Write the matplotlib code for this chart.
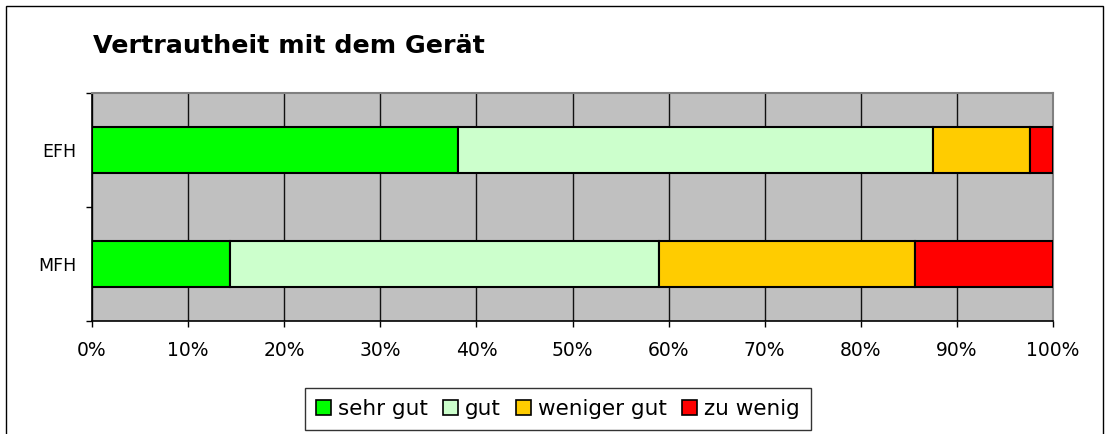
import matplotlib
matplotlib.use("Agg")
import matplotlib.pyplot as plt
from matplotlib.patches import Rectangle

plt.rcParams['font.family'] = ['DejaVu Sans']

categories = ['MFH', 'EFH']
series = ['sehr gut', 'gut', 'weniger gut', 'zu wenig']
values = {
    'sehr gut':    [14.4, 38.1],
    'gut':         [44.6, 49.4],
    'weniger gut': [26.6, 10.1],
    'zu wenig':    [14.4, 2.4],
}
colors = ['#00FF00', '#CCFFCC', '#FFCC00', '#FF0000']
xticks = list(range(0, 101, 10))
xticklabels = [f'{t}%' for t in xticks]

fig = plt.figure(figsize=(11.09, 4.34), dpi=100)
# outer chart frame
fig.patches.append(Rectangle((6/1109, -0.1), 1097/1109, 1.1 - 6/434, transform=fig.transFigure,
                             fill=False, edgecolor='black', linewidth=1))

ax = fig.add_axes([92/1109, 1 - 321/434, 961/1109, 228/434])
ax.set_facecolor('#C0C0C0')

ypos = list(range(len(categories)))
left = [0.0] * len(categories)
for name, col in zip(series, colors):
    vals = values[name]
    ax.barh(ypos, vals, left=left, height=0.4, color=col, edgecolor='black',
            linewidth=1.5, label=name, zorder=3)
    left = [l + v for l, v in zip(left, vals)]

ax.set_xlim(0, 100)
ax.set_ylim(-0.5, 1.5)
ax.set_xticks(xticks)
ax.set_xticklabels(xticklabels, fontsize=13.5)
ax.set_yticks(ypos)
ax.set_yticklabels(categories, fontsize=12.5)
ax.set_yticks([-0.5, 0.5, 1.5], minor=True)
ax.tick_params(axis='y', which='major', length=0, pad=11)
ax.tick_params(axis='y', which='minor', length=4.5, direction='out', width=1)
ax.tick_params(axis='x', length=4.5, direction='out', width=1, pad=10)
ax.xaxis.grid(True, color='#111111', linewidth=1, zorder=1)
ax.set_axisbelow(True)

for s in ['top', 'right']:
    ax.spines[s].set_color('#808080')
    ax.spines[s].set_linewidth(1.5)
for s in ['left', 'bottom']:
    ax.spines[s].set_color('black')
    ax.spines[s].set_linewidth(1.2)

fig.text(93/1109, 1 - 46/434, 'Vertrautheit mit dem Gerät', fontsize=18.3, fontweight='bold',
         va='center', ha='left')

leg = fig.legend(loc='center', bbox_to_anchor=(558/1109, 1 - 409/434), ncol=4,
                 fontsize=15.5, frameon=True, fancybox=False, handlelength=0.7,
                 handleheight=0.7, handletextpad=0.33, columnspacing=0.7,
                 borderpad=0.5, borderaxespad=0, edgecolor='black')
leg.get_frame().set_linewidth(1)
for h in leg.legend_handles:
    h.set_linewidth(1.2)

fig.savefig('out.png', dpi=100)
